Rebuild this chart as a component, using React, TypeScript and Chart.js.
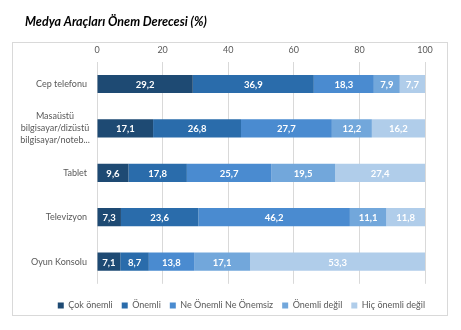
import React, { useEffect, useRef } from "react";
import { Chart, registerables } from "chart.js";

Chart.register(...registerables);

const TITLE = "Medya Araçları Önem Derecesi (%)";
const categories: string[][] = [
  ["Cep telefonu"],
  ["Masaüstü", "bilgisayar/dizüstü", "bilgisayar/noteb..."],
  ["Tablet"],
  ["Televizyon"],
  ["Oyun Konsolu"],
];
const seriesNames = ["Çok önemli", "Önemli", "Ne Önemli Ne Önemsiz", "Önemli değil", "Hiç önemli değil"];
const cokOnemli = [29.2, 17.1, 9.6, 7.3, 7.1];
const onemli = [36.9, 26.8, 17.8, 23.6, 8.7];
const neOnemliNeOnemsiz = [18.3, 27.7, 25.7, 46.2, 13.8];
const onemliDegil = [7.9, 12.2, 19.5, 11.1, 17.1];
const hicOnemliDegil = [7.7, 16.2, 27.4, 11.8, 53.3];
const xTicks = [0, 20, 40, 60, 80, 100];

const colors = ["#1E4A73", "#2A6CAB", "#4A8BD0", "#72A7DB", "#B0CDEA"];
const FONT = "Lato, 'Open Sans', sans-serif";

const framePlugin = {
  id: "frame",
  afterLayout(chart: any) {
    if (chart.legend) {
      chart.legend.left += 9;
      chart.legend.right += 9;
    }
  },
  beforeDraw(chart: any) {
    const ctx = chart.ctx;
    ctx.save();
    ctx.strokeStyle = "#D9D9D9";
    ctx.lineWidth = 1;
    ctx.strokeRect(12.5, 42.5, 435, 273);
    ctx.fillStyle = "#000000";
    ctx.font = `italic bold 12.5px ${FONT}`;
    ctx.textAlign = "left";
    ctx.textBaseline = "middle";
    ctx.fillText(TITLE, 25, 22);
    ctx.restore();
  },
  afterDraw(chart: any) {
    const ctx = chart.ctx;
    const yScale = chart.scales.y;
    ctx.save();
    ctx.fillStyle = "#595959";
    ctx.font = `9px ${FONT}`;
    ctx.textBaseline = "middle";
    const lh = 12;
    categories.forEach((lines, i) => {
      const y = yScale.getPixelForValue(i);
      if (lines.length === 1) {
        ctx.textAlign = "right";
        ctx.fillText(lines[0], chart.chartArea.left - 10, y);
      } else {
        ctx.textAlign = "center";
        const start = y - ((lines.length - 1) * lh) / 2;
        lines.forEach((l, k) => ctx.fillText(l, 55, start + k * lh));
      }
    });
    // data labels
    ctx.fillStyle = "#FFFFFF";
    ctx.font = `bold 9.5px ${FONT}`;
    ctx.textAlign = "center";
    chart.data.datasets.forEach((ds: any, di: number) => {
      const meta = chart.getDatasetMeta(di);
      meta.data.forEach((bar: any, i: number) => {
        const v = ds.data[i];
        const cx = (bar.x + bar.base) / 2;
        ctx.fillText(v.toFixed(1).replace(".", ","), cx, bar.y + 1);
      });
    });
    ctx.restore();
  },
};

export default function App() {
  const ref = useRef<HTMLCanvasElement>(null);
  useEffect(() => {
    document.body.style.margin = "0";
    const seriesData = [cokOnemli, onemli, neOnemliNeOnemsiz, onemliDegil, hicOnemliDegil];
    const chart = new Chart(ref.current!, {
      type: "bar",
      data: {
        labels: categories.map((c) => c.join(" ")),
        datasets: seriesNames.map((name, i) => ({
          label: name,
          data: seriesData[i],
          backgroundColor: colors[i],
          borderWidth: 0,
          barPercentage: 0.41,
          categoryPercentage: 1,
        })),
      },
      options: {
        indexAxis: "y",
        responsive: false,
        animation: false,
        maintainAspectRatio: false,
        layout: { padding: { top: 39, left: 12, right: 36, bottom: 10 } },
        scales: {
          x: {
            position: "top",
            stacked: true,
            min: 0,
            max: 100,
            afterBuildTicks: (scale: any) => {
              scale.ticks = xTicks.map((v) => ({ value: v }));
            },
            ticks: { color: "#595959", font: { size: 9, family: FONT }, padding: 6 },
            grid: { color: "#D9D9D9", drawTicks: false },
            border: { display: false },
          },
          y: {
            stacked: true,
            ticks: { display: false },
            grid: { display: false },
            border: { display: false },
            afterFit: (scale: any) => {
              scale.width = 85;
            },
          },
        },
        plugins: {
          legend: {
            position: "bottom",
            align: "end",
            title: { display: true, text: "", font: { size: 1 }, padding: { top: 7, bottom: 0 } },
            labels: {
              boxWidth: 6,
              boxHeight: 6,
              color: "#595959",
              font: { size: 9, family: FONT },
              padding: 9,
            },
          },
          tooltip: { enabled: false },
        },
      },
      plugins: [framePlugin],
    });
    return () => chart.destroy();
  }, []);
  return <canvas ref={ref} width={461} height={330} style={{ display: "block" }} />;
}
